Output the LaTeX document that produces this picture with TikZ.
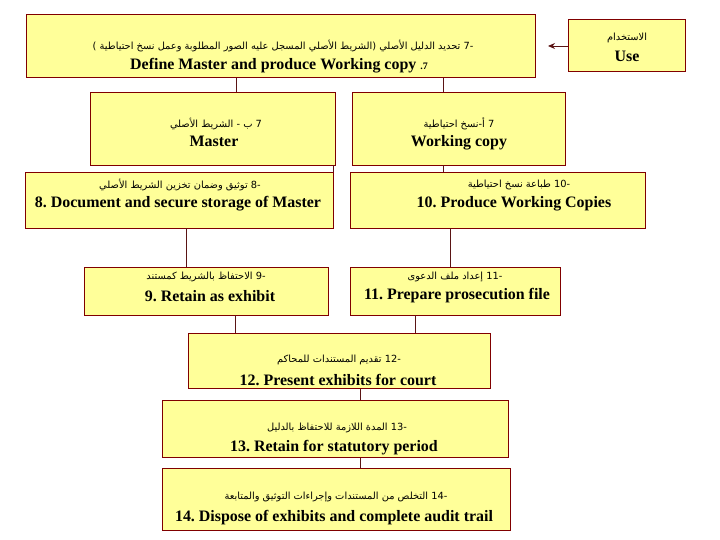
\documentclass[tikz,border=0pt]{standalone}
\usepackage{fontspec}
\setmainfont{Liberation Serif}
\newfontfamily\arabicfont[Script=Arabic]{DejaVu Sans}
\TeXXeTstate=1
\frenchspacing
\usetikzlibrary{arrows.meta}
\definecolor{boxfill}{RGB}{255,255,153}
\definecolor{boxline}{RGB}{128,0,0}
\definecolor{linecol}{RGB}{90,20,20}
\tikzset{
  box/.style={draw=boxline, fill=boxfill, line width=1pt, inner sep=0pt},
  ar/.style={font=\arabicfont\fontsize{9.9}{12}\selectfont, inner sep=0pt},
  en/.style={font=\bfseries\fontsize{16}{18}\selectfont, inner sep=0pt},
  conn/.style={draw=linecol, line width=0.9pt},
}
\begin{document}
\begin{tikzpicture}[x=1bp, y=-1bp]
\useasboundingbox (0,0) rectangle (720,540);
% boxes
\node[box, minimum width=508bp, minimum height=63bp] (b7) at (281,46.5) {};
\node[box, minimum width=117bp, minimum height=52bp] (use) at (626.5,46) {};
\node[box, minimum width=245bp, minimum height=72bp] (master) at (212.5,129) {};
\node[box, minimum width=213bp, minimum height=72bp] (work) at (458.5,129) {};
\node[box, minimum width=308bp, minimum height=56bp] (b8) at (179,200) {};
\node[box, minimum width=295bp, minimum height=56bp] (b10) at (497.5,200) {};
\node[box, minimum width=244bp, minimum height=48bp] (b9) at (206,291) {};
\node[box, minimum width=210bp, minimum height=48bp] (b11) at (455,291) {};
\node[box, minimum width=302bp, minimum height=55bp] (b12) at (339,360.5) {};
\node[box, minimum width=346bp, minimum height=57bp] (b13) at (335,428.5) {};
\node[box, minimum width=348bp, minimum height=62bp] (b14) at (336,499) {};
% texts
\node[ar] (t7a) at (283,46) {\beginR\beginL-7\endL{} تحديد الدليل الأصلي (الشريط الأصلي المسجل عليه الصور المطلوبة وعمل نسخ احتياطية )\endR};
\node[en] (t7e) at (279,66) {Define Master and produce Working copy {\fontsize{10}{12}\selectfont .7}};
\node[ar] (tua) at (627,38) {\beginR الاستخدام\endR};
\node[en] (tue) at (627,56) {Use};
\node[ar] (tma) at (216,124) {\beginR 7 ب - الشريط الأصلي\endR};
\node[en] (tme) at (214,141) {Master};
\node[ar] (twa) at (459,124) {\beginR 7 أ-نسخ احتياطية\endR};
\node[en] (twe) at (459,143) {Working copy};
\node[ar] (t8a) at (180,185) {\beginR\beginL-8\endL{} توثيق وضمان تخزين الشريط الأصلي\endR};
\node[en] (t8e) at (178,204) {8. Document and secure storage of Master};
\node[ar] (t10a) at (519,185) {\beginR\beginL-10\endL{} طباعة نسخ احتياطية\endR};
\node[en] (t10e) at (514,204) {10. Produce Working Copies};
\node[ar] (t9a) at (206,277) {\beginR\beginL-9\endL{} الاحتفاظ بالشريط كمستند\endR};
\node[en] (t9e) at (210,296) {9. Retain as exhibit};
\node[ar] (t11a) at (455,277) {\beginR\beginL-11\endL{} إعداد ملف الدعوى\endR};
\node[en] (t11e) at (457,296) {11. Prepare prosecution file};
\node[ar] (t12a) at (339,360) {\beginR\beginL-12\endL{} تقديم المستندات للمحاكم\endR};
\node[en] (t12e) at (338,380) {12. Present exhibits for court};
\node[ar] (t13a) at (337,428) {\beginR\beginL-13\endL{} المدة اللازمة للاحتفاظ بالدليل\endR};
\node[en] (t13e) at (334,448) {13. Retain for statutory period};
\node[ar] (t14a) at (336,497) {\beginR\beginL-14\endL{} التخلص من المستندات وإجراءات التوثيق والمتابعة\endR};
\node[en] (t14e) at (334,518) {14. Dispose of exhibits and complete audit trail};
% connectors
\coordinate (arrEnd) at (548,46);
\draw[conn, -{Stealth[length=7bp,width=6bp]}] (use.west) -- (arrEnd);
\draw[conn] (236,0 |- b7.south) -- (236,0 |- master.north);
\draw[conn] (443,0 |- b7.south) -- (443,0 |- work.north);
\draw[conn] (333,0 |- master.south) -- (333,0 |- b8.north);
\draw[conn] (443,0 |- work.south) -- (443,0 |- b10.north);
\draw[conn] (186,0 |- b8.south) -- (186,0 |- b9.north);
\draw[conn] (450,0 |- b10.south) -- (450,0 |- b11.north);
\draw[conn] (235,0 |- b9.south) -- (235,0 |- b12.north);
\draw[conn] (415,0 |- b11.south) -- (415,0 |- b12.north);
\draw[conn] (360,0 |- b12.south) -- (360,0 |- b13.north);
\draw[conn] (360,0 |- b13.south) -- (360,0 |- b14.north);
\end{tikzpicture}
\end{document}
